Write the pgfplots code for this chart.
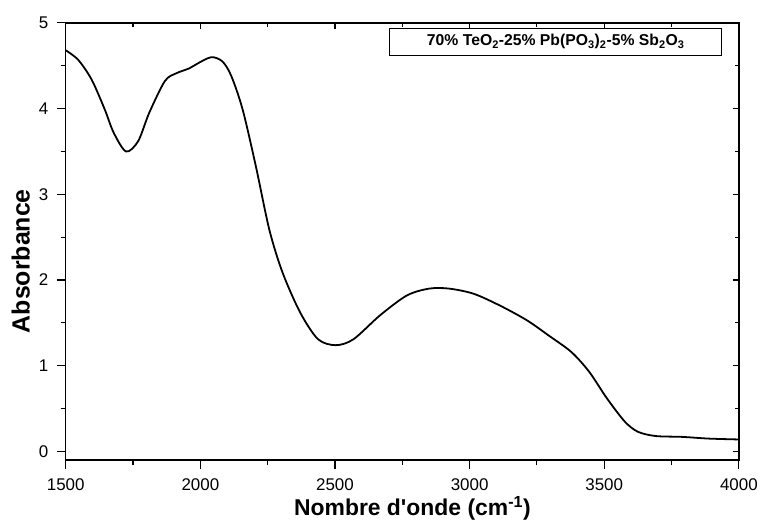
\documentclass[border=0pt]{standalone}
\usepackage{fontspec}
\setmainfont{Liberation Sans}
\usepackage{pgfplots}
\pgfplotsset{compat=1.18}

\pgfplotstableread{
x y
1500 4.68
1546 4.57
1596 4.34
1645 3.99
1678 3.72
1724 3.50
1769 3.62
1810 3.95
1868 4.32
1909 4.41
1959 4.47
1992 4.53
2041 4.60
2082 4.55
2115 4.38
2157 3.99
2206 3.33
2256 2.59
2305 2.09
2371 1.62
2437 1.31
2503 1.24
2569 1.31
2668 1.59
2767 1.82
2850 1.90
2924 1.90
3015 1.84
3114 1.70
3213 1.53
3295 1.35
3378 1.16
3444 0.93
3510 0.62
3576 0.35
3625 0.23
3691 0.18
3790 0.17
3889 0.15
4000 0.14
}\spectrum

\begin{document}
\begin{tikzpicture}
\pgfplotsset{
  common/.style={
    scale only axis, width=676pt, height=439pt,
    xmin=1500, xmax=4000, ymin=-0.1, ymax=5,
    xtick={1500,2000,...,4000}, ytick={0,1,...,5},
    minor x tick num=1, minor y tick num=1,
    axis line style={line width=1.3pt, -},
    every tick/.style={line width=1.1pt, black},
    every minor tick/.style={line width=1.1pt, black},
  }
}
\begin{axis}[common, name=main,
  xtick pos=bottom, ytick pos=left, tick align=outside,
  major tick length=9pt, minor tick length=5pt,
  /pgf/number format/assume math mode=true,
  /pgf/number format/1000 sep={},
  tick label style={font=\fontsize{17}{17}\selectfont},
  xticklabel style={yshift=-6pt},
  yticklabel style={xshift=-5pt},
  xlabel={Nombre d\textquotesingle onde (cm\textsuperscript{-1})},
  ylabel={Absorbance},
  xlabel style={font=\bfseries\fontsize{23}{23}\selectfont, at={(axis description cs:0.515,-0.128)}, anchor=base},
  ylabel style={font=\bfseries\fontsize{25}{25}\selectfont, at={(axis description cs:-0.067,0.455)}, anchor=center},
]
\addplot[black, line width=1.8pt, smooth] table {\spectrum};
\node[draw, line width=1pt, anchor=north east, minimum width=333pt, minimum height=27pt,
  fill=white, font=\bfseries\fontsize{15.8}{15.8}\selectfont]
  at (rel axis cs:0.975,0.989)
  {70\% TeO\textsubscript{2}-25\% Pb(PO\textsubscript{3})\textsubscript{2}-5\% Sb\textsubscript{2}O\textsubscript{3}};
\end{axis}
\begin{axis}[common,
  xtick pos=top, ytick pos=right, tick align=inside,
  major tick length=6pt, minor tick length=4pt,
  xticklabels={}, yticklabels={},
]
\end{axis}
\path (main.south west) ++(-66pt,-61pt) coordinate (bbsw);
\path (main.north west) ++(-66pt,23pt) coordinate (bbnw);
\end{tikzpicture}
\end{document}
